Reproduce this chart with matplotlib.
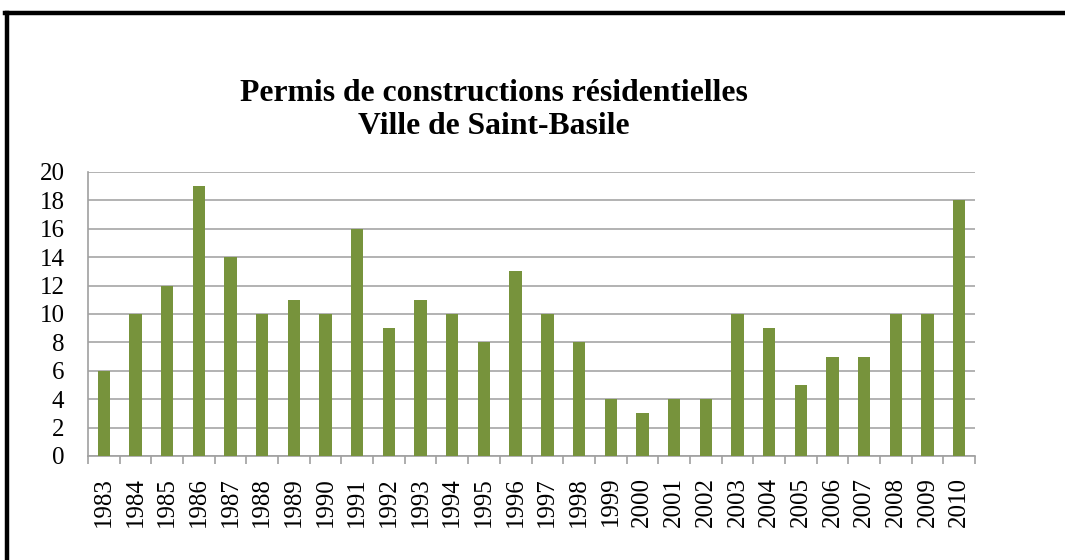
import matplotlib
matplotlib.use("Agg")
import matplotlib.pyplot as plt
from matplotlib.lines import Line2D

years = [str(y) for y in range(1983, 2011)]
permits = [6, 10, 12, 19, 14, 10, 11, 10, 16, 9, 11, 10, 8, 13, 10, 8,
           4, 3, 4, 4, 10, 9, 5, 7, 7, 10, 10, 18]
y_ticks = list(range(0, 21, 2))

plt.rcParams['font.family'] = ['Liberation Serif', 'DejaVu Serif']

fig = plt.figure(figsize=(10.65, 5.6), dpi=100)
ax = fig.add_axes([88 / 1065, 1 - 456 / 560, 887 / 1065, 284 / 560])

x = list(range(len(years)))
ax.bar(x, permits, width=0.39, color='#77933C', zorder=3)

ax.set_xlim(-0.5, len(years) - 0.5)
ax.set_ylim(0, 20)
ax.set_yticks(y_ticks)
ax.set_yticklabels([str(t) for t in y_ticks], fontsize=18)
ax.set_xticks(x)
ax.set_xticklabels(years, rotation=90, fontsize=18)
ax.tick_params(axis='x', length=0, pad=15)
ax.tick_params(axis='y', length=0, pad=17)

# minor ticks at category boundaries
ax.set_xticks([i - 0.5 for i in range(len(years) + 1)], minor=True)
ax.tick_params(axis='x', which='minor', length=6, color='#A0A0A0', width=1.2)

ax.grid(axis='y', color='#A6A6A6', linewidth=1.2, zorder=0)
for s in ['top', 'right']:
    ax.spines[s].set_visible(False)
ax.spines['left'].set_color('#A0A0A0')
ax.spines['bottom'].set_color('#A0A0A0')
ax.spines['left'].set_linewidth(1.2)
ax.spines['bottom'].set_linewidth(1.2)

fig.text(494 / 1065, 1 - 110 / 560,
         "Permis de constructions résidentielles\nVille de Saint-Basile",
         ha='center', va='center', fontsize=22.8, fontweight='bold',
         linespacing=1.18)

# outer frame (left and top only)
fig.add_artist(Line2D([7 / 1065, 7 / 1065], [0, 1 - 13 / 560],
                      transform=fig.transFigure, color='black', linewidth=3.2))
fig.add_artist(Line2D([5 / 1065, 1], [1 - 13 / 560, 1 - 13 / 560],
                      transform=fig.transFigure, color='black', linewidth=3.2))

fig.savefig("out.png", dpi=100)
